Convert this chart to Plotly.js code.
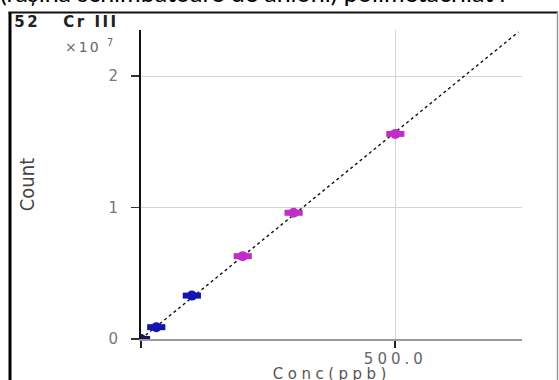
<!DOCTYPE html>
<html>
<head>
<meta charset="utf-8">
<script src="https://cdn.plot.ly/plotly-3.0.1.min.js"></script>
<style>
html,body{margin:0;padding:0;background:#fff;overflow:hidden;}
#chart{width:559px;height:392px;}
.xtick text{letter-spacing:4px;}
.annotation[data-index="1"] text{letter-spacing:2.5px;}
.annotation[data-index="2"] text{letter-spacing:2px;}
.annotation[data-index="3"] text{letter-spacing:4.5px;}
</style>
</head>
<body>
<div id="chart"></div>
<script>
// Calibration standards (concentration in ppb) and measured counts
var concPpb = [0, 30, 100, 200, 300, 500];
var counts = [0, 0.09e7, 0.33e7, 0.63e7, 0.96e7, 1.56e7];
var pointColors = ['#151560', '#1414b4', '#1414b4', '#c22cc8', '#c22cc8', '#c22cc8'];
// Calibration curve end points
var fitConc = [0, 742];
var fitCounts = [0, 2.335e7];
// Tick labels
var xTickVals = [0, 500];
var xTickText = ['', '500.0'];
var yTickVals = [0, 1e7, 2e7];
var yTickText = ['0', '1', '2'];

// Figure is slightly taller than the 380px window: the x-axis title is cut at the bottom like the reference.
var L = 141, R = 37, T = 30, B = 53, W = 559, H = 392;
var PW = W - L - R, PH = H - T - B;
function xp(px){ return (px - L) / PW; }
function yp(py){ return (H - B - py) / PH; }

var traces = [
  {
    x: fitConc, y: fitCounts, type: 'scatter', mode: 'lines',
    line: {color: '#111', width: 1.4, dash: 'dot'},
    hoverinfo: 'skip', showlegend: false
  },
  {
    x: concPpb, y: counts, type: 'scatter', mode: 'markers',
    marker: {symbol: 'line-ew', size: 13, color: pointColors,
             line: {color: pointColors, width: 6}},
    showlegend: false
  },
  {
    x: concPpb, y: counts, type: 'scatter', mode: 'markers',
    marker: {symbol: 'circle', size: 10, color: pointColors, line: {width: 0}},
    showlegend: false
  }
];

var layout = {
  width: W, height: H,
  margin: {l: L, r: R, t: T, b: B, pad: 0},
  paper_bgcolor: '#fff', plot_bgcolor: '#fff',
  showlegend: false,
  xaxis: {
    range: [0, 749], autorange: false,
    tickmode: 'array', tickvals: xTickVals, ticktext: xTickText,
    ticks: 'outside', ticklen: 7, tickwidth: 2, tickcolor: '#222',
    ticklabelstandoff: -2,
    showline: true, linecolor: '#9a9a9a', linewidth: 2,
    showgrid: true, gridcolor: '#d4d4d4', gridwidth: 1,
    zeroline: false,
    tickfont: {family: 'DejaVu Sans', size: 15, color: '#666'},
    automargin: false, fixedrange: true
  },
  yaxis: {
    range: [0, 2.35e7], autorange: false,
    tickmode: 'array', tickvals: yTickVals, ticktext: yTickText,
    ticks: 'outside', ticklen: 8, tickwidth: 1.5, tickcolor: '#333',
    ticklabelstandoff: 10,
    showline: true, linecolor: '#111', linewidth: 2,
    showgrid: true, gridcolor: '#d4d4d4', gridwidth: 1,
    zeroline: false,
    tickfont: {family: 'DejaVu Sans', size: 15, color: '#777'},
    title: {text: 'Count', standoff: 68,
            font: {family: 'DejaVu Sans Condensed', size: 20, color: '#444'}},
    automargin: false, fixedrange: true
  },
  shapes: [
    {type: 'line', xref: 'paper', yref: 'paper', x0: xp(10), x1: xp(10), y0: yp(400), y1: yp(12),
     line: {color: '#000', width: 3}},
    {type: 'line', xref: 'paper', yref: 'paper', x0: xp(8.5), x1: xp(558), y0: yp(12.5), y1: yp(12.5),
     line: {color: '#111', width: 2}},
    {type: 'line', xref: 'paper', yref: 'paper', x0: xp(557.5), x1: xp(557.5), y0: yp(400), y1: yp(12),
     line: {color: '#999', width: 1.5}}
  ],
  annotations: [
    {xref: 'paper', yref: 'paper', x: xp(-2), y: yp(-8), xanchor: 'left', yanchor: 'middle',
     text: '(rașina schimbătoare de anioni) polimetacrilat r', showarrow: false,
     font: {family: 'Lato', size: 25, color: '#000'}},
    {xref: 'paper', yref: 'paper', x: xp(26), y: yp(22), xanchor: 'left', yanchor: 'middle',
     text: '52\u00a0\u00a0\u00a0Cr\u00a0III', showarrow: false,
     font: {family: 'DejaVu Sans', size: 15, color: '#222', weight: 'bold'}},
    {xref: 'paper', yref: 'paper', x: xp(112), y: yp(46), xanchor: 'right', yanchor: 'middle',
     text: '×10 <sup>7</sup>', showarrow: false,
     font: {family: 'DejaVu Sans', size: 14, color: '#666'}},
    {xref: 'paper', yref: 'paper', x: 0.5, y: yp(374), xanchor: 'center', yanchor: 'middle',
     text: 'Conc(ppb)', showarrow: false,
     font: {family: 'DejaVu Sans', size: 15, color: '#555'}}
  ]
};

Plotly.newPlot('chart', traces, layout, {displayModeBar: false, staticPlot: true});
</script>
</body>
</html>
